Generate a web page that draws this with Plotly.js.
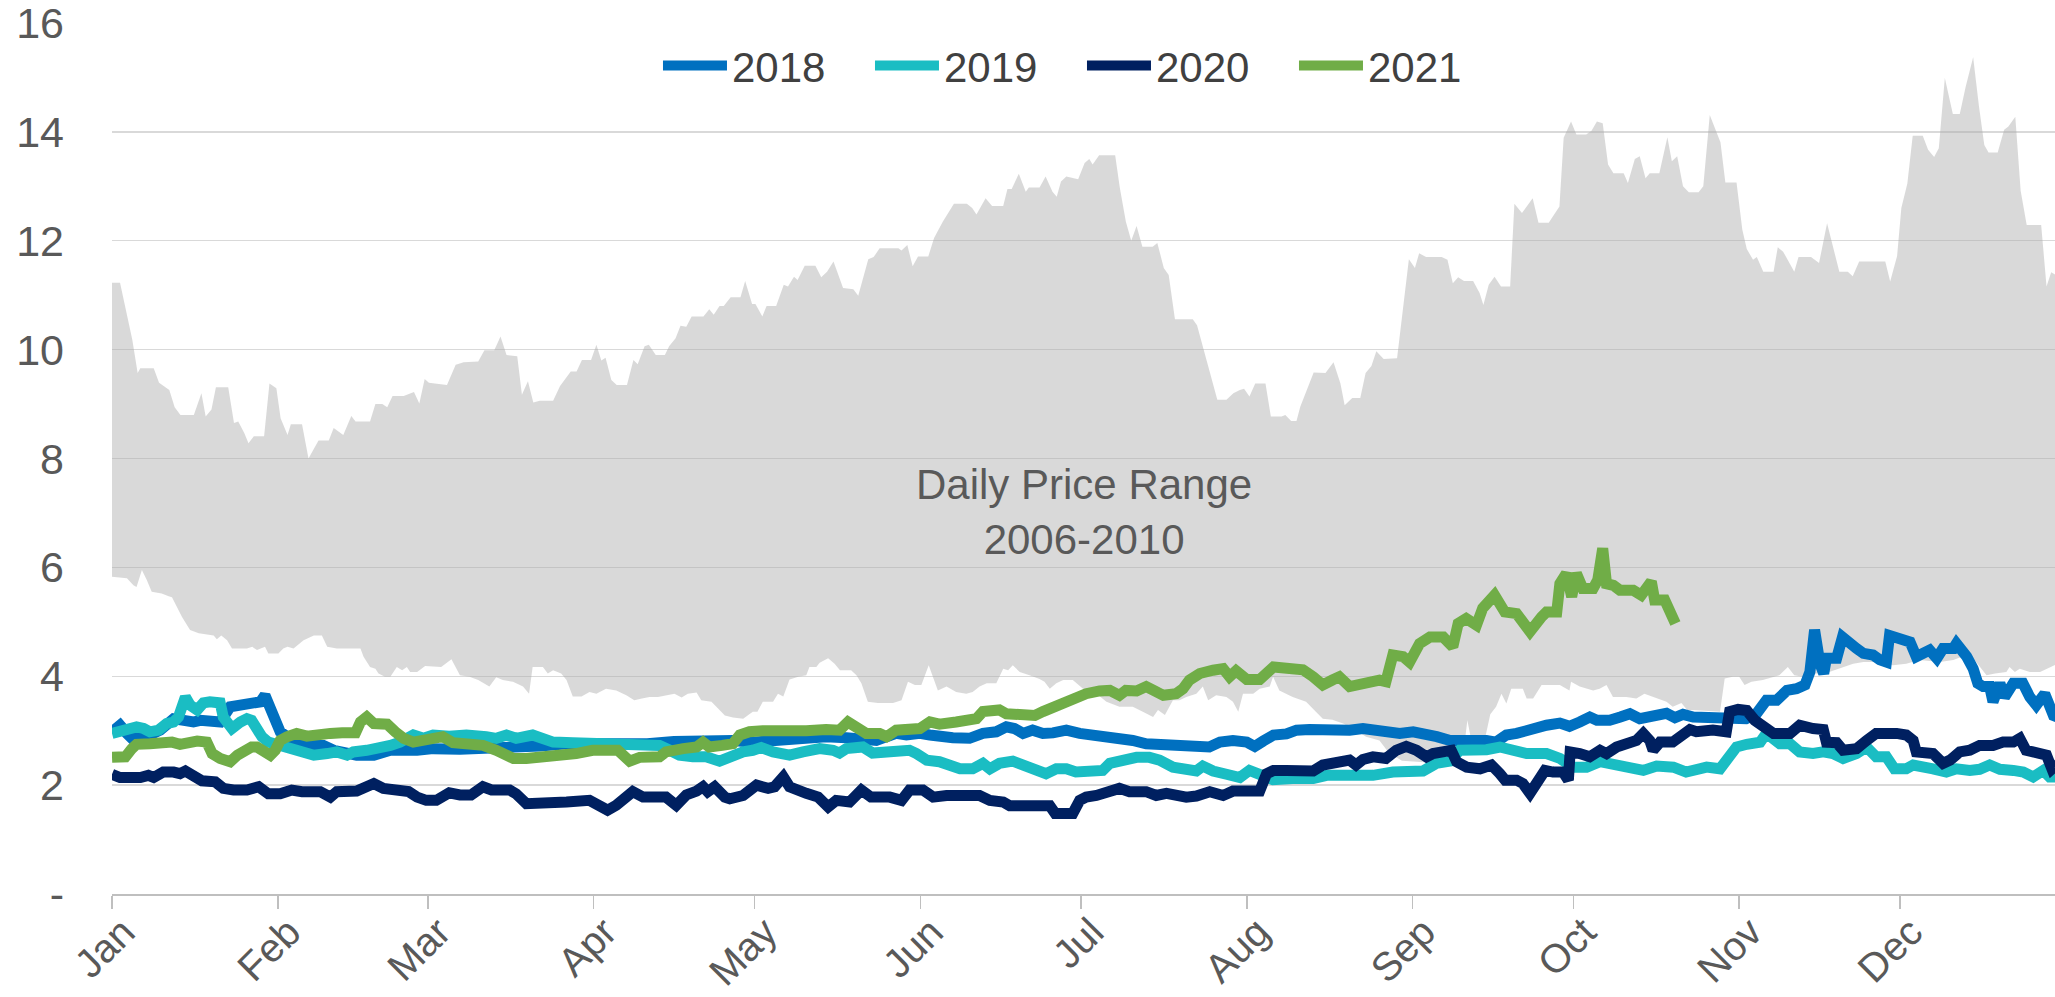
<!DOCTYPE html>
<html>
<head>
<meta charset="utf-8">
<script src="https://cdn.plot.ly/plotly-3.0.1.min.js"></script>
<style>
html,body{margin:0;padding:0;background:#ffffff;}
#chart{width:2055px;height:997px;}
</style>
</head>
<body>
<div id="chart"></div>
<script>
// ---- Data: [day of year (0 = 1 Jan), price] ----
const seriesNames = ['2018', '2019', '2020', '2021'];
const seriesColors = ['#0070C0', '#1ABDC3', '#002060', '#70AD47'];
const rangeLabel = 'Daily Price Range<br>2006-2010';
const yTickVals = [0, 2, 4, 6, 8, 10, 12, 14, 16];
const yTickText = ['-', '2', '4', '6', '8', '10', '12', '14', '16'];

const rangeHigh = [[0,11.23],[1.5,11.23],[3.8,10.18],[4.8,9.57],[5.3,9.66],[7.8,9.66],[8.8,9.39],[10.7,9.26],[11.7,8.94],[12.8,8.80],[15.3,8.80],[16.7,9.20],[17.5,8.77],[18.6,8.90],[19.4,9.31],[21.7,9.31],[22.8,8.65],[23.6,8.68],[24.7,8.47],[25.5,8.28],[26.5,8.41],[28.4,8.41],[29.4,9.38],[30.7,9.29],[31.5,8.74],[32.8,8.43],[33.4,8.63],[35.5,8.63],[36.7,8.00],[38.6,8.33],[40.5,8.33],[41.4,8.56],[43.2,8.43],[44.7,8.78],[45.5,8.68],[48.2,8.68],[49.2,9.00],[50.5,9.00],[51.4,8.94],[52.4,9.15],[54.5,9.15],[56.4,9.22],[57.4,9.01],[58.4,9.46],[59.2,9.39],[62.6,9.35],[64.2,9.72],[65.7,9.77],[68.4,9.78],[69.6,9.99],[71.4,9.99],[72.6,10.24],[73.7,9.90],[75.7,9.88],[76.6,9.17],[77.7,9.42],[78.7,9.03],[79.9,9.06],[82.4,9.06],[83.7,9.33],[85.7,9.60],[86.8,9.60],[87.8,9.81],[89.5,9.81],[90.5,10.09],[91.4,9.80],[92.2,9.85],[93.3,9.44],[94.3,9.35],[96.2,9.35],[97.4,9.81],[98.2,9.73],[99.5,10.06],[100.3,10.09],[101.6,9.90],[103.3,9.90],[104.1,10.06],[105.3,10.21],[106.2,10.44],[107.3,10.42],[108.3,10.61],[110.5,10.61],[111.6,10.74],[112.4,10.64],[113.5,10.80],[114.3,10.80],[115.6,10.96],[117.4,10.96],[118.3,11.26],[119.6,10.84],[120.2,10.84],[121.5,10.61],[122.3,10.80],[124.1,10.80],[125.5,11.19],[126.3,11.16],[127.4,11.34],[128.1,11.28],[129.4,11.54],[131.4,11.54],[132.5,11.33],[133.6,11.43],[134.8,11.62],[136.6,11.13],[138.5,11.11],[139.4,10.99],[141.3,11.66],[142.3,11.70],[143.4,11.86],[146.9,11.86],[147.5,11.82],[148.6,11.92],[149.6,11.53],[150.6,11.71],[152.5,11.71],[153.6,12.05],[155.2,12.35],[156.5,12.54],[157.3,12.68],[159.7,12.68],[160.7,12.60],[161.5,12.48],[163.2,12.78],[164.4,12.64],[166.5,12.64],[167.3,12.95],[168.1,12.95],[169.4,13.23],[170.7,12.90],[171.3,12.98],[173.3,12.98],[174.4,13.18],[175.7,12.90],[176.5,12.81],[177.3,13.09],[178.3,13.18],[180.5,13.13],[181.7,13.43],[182.6,13.50],[183.2,13.40],[184.4,13.57],[187.4,13.57],[188.3,12.97],[189.4,12.35],[190.4,12.00],[191.4,12.27],[192.5,11.89],[194.4,11.89],[195.3,11.96],[196.5,11.50],[197.4,11.37],[198.6,10.56],[201.9,10.56],[202.7,10.45],[204.4,9.84],[206.5,9.08],[208.2,9.08],[209.5,9.20],[210.7,9.26],[211.5,9.28],[212.5,9.14],[213.6,9.38],[215.5,9.38],[216.5,8.77],[218.5,8.77],[219.2,8.80],[220.3,8.69],[221.3,8.69],[222.0,8.95],[223.4,9.29],[224.5,9.58],[226.7,9.57],[228.2,9.77],[229.5,9.38],[230.3,8.98],[231.7,9.11],[233.2,9.11],[234.2,9.57],[235.3,9.70],[236.2,9.97],[237.6,9.83],[240.1,9.84],[241.2,10.76],[242.3,11.66],[243.4,11.50],[244.2,11.77],[245.5,11.70],[248.4,11.70],[249.5,11.65],[250.5,11.22],[251.5,11.33],[252.6,11.26],[254.3,11.26],[255.5,11.04],[256.2,10.82],[257.2,11.19],[258.3,11.34],[259.5,11.16],[261.2,11.16],[262.0,12.68],[263.4,12.51],[265.4,12.78],[266.5,12.33],[268.4,12.33],[270.4,12.63],[271.2,13.89],[272.6,14.19],[273.6,13.95],[275.4,13.95],[276.4,14.02],[277.4,14.19],[278.5,14.16],[279.5,13.40],[280.5,13.24],[282.4,13.24],[283.2,13.06],[284.5,13.50],[285.4,13.55],[286.5,13.15],[287.3,13.24],[289.1,13.24],[290.6,13.90],[291.4,13.46],[292.4,13.55],[293.5,13.00],[294.6,12.89],[296.4,12.89],[297.3,13.00],[298.5,14.31],[299.6,14.03],[300.5,13.81],[301.4,13.07],[303.5,13.07],[304.6,12.20],[305.4,11.85],[306.6,11.65],[307.3,11.70],[308.5,11.43],[310.4,11.43],[311.2,11.88],[312.2,11.80],[314.3,11.43],[315.1,11.70],[317.4,11.70],[318.9,11.59],[320.4,12.32],[321.6,11.86],[322.7,11.43],[324.3,11.43],[325.2,11.35],[326.4,11.62],[331.3,11.62],[332.2,11.25],[333.5,11.72],[334.3,12.60],[335.4,13.05],[336.4,13.93],[338.3,13.93],[339.3,13.67],[340.4,13.54],[341.3,13.70],[342.4,14.99],[343.9,14.33],[345.2,14.33],[346.3,14.82],[347.7,15.37],[348.8,14.47],[349.8,13.76],[350.6,13.62],[352.3,13.62],[353.5,14.04],[354.3,14.10],[355.6,14.28],[356.6,12.92],[357.7,12.29],[360.4,12.29],[361.4,11.16],[362.3,11.42],[363.5,11.35]];

const rangeLow = [[0,5.83],[2.8,5.80],[4.0,5.67],[4.6,5.64],[5.6,5.95],[6.5,5.77],[7.4,5.55],[9.3,5.52],[10.6,5.47],[11.2,5.45],[13.1,5.09],[14.6,4.85],[16.2,4.79],[19.0,4.75],[19.6,4.68],[20.4,4.75],[21.5,4.66],[22.4,4.51],[25.2,4.51],[26.2,4.54],[27.1,4.48],[28.6,4.54],[29.2,4.42],[31.1,4.42],[32.0,4.51],[32.8,4.54],[33.9,4.51],[35.8,4.66],[37.7,4.75],[39.2,4.75],[40.2,4.54],[42.0,4.51],[46.4,4.51],[47.0,4.36],[48.2,4.17],[49.2,4.14],[49.8,4.05],[51.0,3.99],[52.0,3.99],[53.2,4.17],[54.2,4.11],[55.1,4.17],[55.7,4.08],[57.0,4.08],[58.5,4.19],[61.5,4.17],[63.4,4.31],[65.0,4.02],[66.8,3.99],[68.4,3.93],[70.5,3.81],[71.8,3.98],[73.0,3.93],[74.9,3.90],[76.8,3.81],[77.9,3.68],[78.6,4.17],[80.5,4.17],[81.4,4.05],[82.4,4.11],[83.9,4.05],[84.9,3.93],[86.1,3.63],[87.7,3.63],[89.2,3.71],[90.5,3.68],[92.3,3.77],[94.2,3.74],[96.1,3.65],[97.6,3.56],[99.0,3.59],[100.4,3.62],[102.0,3.62],[103.5,3.65],[105.1,3.68],[106.4,3.61],[107.6,3.68],[109.2,3.70],[110.1,3.56],[112.0,3.53],[113.2,3.41],[114.5,3.28],[116.0,3.24],[117.9,3.22],[119.7,3.35],[120.6,3.35],[121.6,3.53],[123.5,3.53],[124.4,3.68],[125.4,3.63],[126.6,3.94],[128.2,3.99],[129.7,4.02],[130.3,4.17],[131.6,4.17],[132.2,4.25],[133.8,4.33],[135.0,4.23],[136.0,4.11],[138.1,4.11],[139.1,4.02],[140.0,3.87],[141.2,3.53],[143.1,3.51],[145.9,3.51],[147.5,3.56],[148.7,3.90],[150.0,3.84],[151.2,3.84],[152.6,4.20],[154.3,3.74],[155.9,3.81],[157.7,3.71],[159.6,3.68],[160.8,3.71],[162.1,3.81],[163.4,3.87],[165.2,3.87],[166.5,4.14],[167.4,4.11],[168.3,4.20],[169.6,4.08],[171.4,4.02],[173.3,3.95],[174.2,3.90],[175.2,3.77],[176.4,3.87],[177.7,3.93],[179.5,3.93],[180.3,3.87],[181.4,3.77],[183.9,3.68],[185.8,3.53],[188.2,3.44],[190.7,3.44],[192.6,3.35],[194.5,3.25],[195.4,3.38],[196.7,3.29],[198.2,3.56],[199.4,3.56],[200.7,3.62],[202.6,3.68],[203.8,3.81],[204.8,3.56],[206.3,3.65],[208.2,3.62],[209.4,3.53],[210.4,3.35],[211.3,3.68],[213.2,3.68],[214.4,3.77],[216.3,3.81],[216.9,3.99],[218.1,3.74],[220.6,3.62],[223.1,3.53],[224.9,3.35],[226.2,3.22],[228.0,3.20],[230.0,3.13],[232.4,3.01],[234.3,2.89],[236.8,2.82],[238.5,2.60],[241.0,2.45],[245.0,2.42],[248.0,2.40],[250.5,2.55],[252.5,2.60],[253.2,3.19],[254.0,2.80],[256.5,2.85],[257.5,3.30],[258.6,3.44],[259.6,3.68],[260.5,3.50],[261.4,3.77],[263.6,3.77],[264.3,3.59],[265.5,3.59],[267.1,3.84],[270.5,3.84],[272.3,3.74],[272.6,3.90],[274.2,3.81],[276.7,3.74],[277.9,3.77],[279.2,3.84],[280.4,3.62],[282.9,3.62],[284.8,3.59],[286.3,3.68],[287.9,3.62],[290.4,3.53],[291.6,3.44],[293.2,3.51],[294.3,3.38],[295.4,3.38],[300.4,3.35],[301.3,3.96],[302.8,3.99],[304.0,3.99],[305.0,3.84],[306.3,3.90],[308.4,3.93],[310.3,3.99],[311.5,4.02],[313.1,4.17],[314.3,4.02],[315.9,3.99],[318.0,4.05],[320.0,4.05],[321.5,4.10],[323.4,4.17],[325.3,4.23],[327.2,4.26],[330.0,4.26],[332.7,4.20],[335.2,4.23],[337.7,4.30],[341.5,4.26],[344.0,4.30],[346.5,4.39],[347.7,4.33],[349.0,4.17],[350.2,4.02],[351.8,4.05],[353.9,4.08],[354.5,4.17],[355.5,4.08],[356.4,4.14],[358.3,4.08],[360.2,4.08],[361.4,4.14],[363.5,4.23]];

const price2018 = [[0,2.98],[1.5,3.10],[2.8,2.95],[3.7,2.86],[5.3,2.89],[7.1,2.92],[9.0,3.01],[10.2,3.13],[11.5,3.22],[13.4,3.19],[15.2,3.16],[16.5,3.19],[18.3,3.16],[20.2,3.16],[22.1,3.44],[24.0,3.47],[25.8,3.53],[27.7,3.53],[28.6,3.65],[29.6,3.44],[30.5,3.13],[31.4,2.98],[32.7,2.89],[34.5,2.79],[37.0,2.73],[39.5,2.73],[41.4,2.64],[43.3,2.61],[45.7,2.55],[48.9,2.55],[50.1,2.58],[52.0,2.64],[57.0,2.64],[60,2.67],[65,2.66],[70,2.68],[75,2.70],[78,2.68],[80,2.72],[85,2.76],[90,2.75],[95,2.76],[100,2.76],[105,2.80],[110,2.82],[114,2.86],[116,2.82],[119.7,2.79],[123.5,2.82],[126,2.86],[129.7,2.86],[133.4,2.89],[137.2,2.87],[140.3,2.82],[142.8,2.82],[144.7,2.89],[146.5,2.95],[148.4,2.92],[150.9,2.95],[152.8,2.92],[154.6,2.89],[157.1,2.87],[160.2,2.86],[162.7,2.95],[165.2,2.98],[167.1,3.07],[168.6,3.04],[170.2,2.95],[172,3.01],[173.9,2.95],[175.8,2.96],[178.3,3.01],[180.8,2.95],[183.3,2.92],[185.8,2.87],[188.2,2.89],[190.7,2.82],[193.2,2.76],[195.7,2.75],[198.2,2.73],[200.7,2.75],[203.2,2.73],[205,2.70],[207,2.79],[209.4,2.82],[212,2.79],[213.5,2.71],[215.1,2.81],[217,2.92],[219.4,2.94],[221.3,3.01],[223.7,3.02],[226.2,3.00],[228.7,2.98],[231.2,3.01],[233.7,3.04],[235.6,3.01],[238,2.96],[240.6,2.95],[243.1,2.98],[245.6,2.95],[247.5,2.89],[250,2.82],[253.6,2.84],[256.8,2.82],[258.6,2.79],[260.5,2.92],[262.4,2.95],[264.3,3.01],[266.1,3.04],[268,3.10],[270.5,3.14],[272.3,3.08],[274.2,3.16],[276.1,3.25],[277.4,3.19],[279.8,3.19],[281.8,3.25],[283.6,3.31],[285.4,3.22],[287.3,3.25],[289.2,3.28],[290.4,3.32],[292,3.24],[293.5,3.30],[295.4,3.25],[299.1,3.24],[301,3.25],[303.5,3.22],[305.3,3.22],[307.2,3.31],[309.1,3.56],[311,3.56],[312.9,3.74],[314.7,3.77],[316.3,3.84],[317.2,4.08],[318.1,4.85],[319.1,4.23],[319.8,4.05],[320.3,4.33],[322.2,4.33],[323.3,4.72],[324.7,4.57],[325.9,4.51],[327.2,4.42],[329,4.39],[330.3,4.30],[331.5,4.26],[332.1,4.75],[333.7,4.69],[335.9,4.63],[337.1,4.36],[338.4,4.45],[339.6,4.48],[340.9,4.33],[342.1,4.51],[344,4.51],[344.6,4.60],[346.5,4.36],[347.7,4.14],[348.6,3.87],[349.6,3.81],[350.8,3.81],[351.4,3.53],[352.7,3.87],[353.6,3.62],[355.2,3.87],[357,3.87],[358.3,3.62],[359.5,3.47],[361.1,3.68],[362,3.47],[362.7,3.28],[363.5,3.25]];

const price2019 = [[0,2.95],[2.2,3.01],[4.6,3.07],[5.9,3.04],[7.1,2.98],[8.7,3.01],[10.2,3.13],[11.5,3.16],[12.4,3.25],[13.7,3.62],[14.6,3.47],[15.9,3.38],[17.1,3.51],[18.3,3.53],[20.2,3.51],[20.8,3.25],[22.4,3.04],[24.0,3.16],[25.2,3.22],[26.1,3.19],[27.1,3.01],[28.0,2.89],[29.2,2.79],[30.5,2.76],[32.0,2.73],[33.3,2.70],[35.8,2.61],[37.7,2.55],[40.2,2.58],[42.0,2.61],[43.9,2.55],[45.1,2.61],[47.6,2.64],[49.5,2.67],[52.0,2.73],[53.8,2.79],[56.3,2.92],[58.2,2.86],[60,2.92],[63,2.90],[66.2,2.92],[69.9,2.89],[71.8,2.86],[73.7,2.92],[75.5,2.86],[78.6,2.92],[80.5,2.86],[82.4,2.79],[86.1,2.78],[91.1,2.75],[97.3,2.75],[102.3,2.73],[104.2,2.64],[106,2.55],[108.5,2.52],[111,2.52],[113.5,2.44],[115.4,2.52],[117.9,2.61],[119.7,2.64],[121.3,2.69],[123.5,2.61],[126.6,2.55],[129.1,2.61],[132.2,2.67],[134.7,2.64],[135.9,2.59],[137.2,2.67],[140.3,2.70],[142.1,2.59],[144.7,2.61],[149,2.64],[150.3,2.58],[152.2,2.46],[154.6,2.43],[156.5,2.37],[158.4,2.30],[160.8,2.30],[162.7,2.40],[164,2.30],[165.8,2.40],[168.3,2.44],[170.2,2.37],[172.4,2.24],[174.5,2.21],[176.4,2.30],[178.3,2.30],[180.1,2.24],[182.7,2.24],[185.1,2.27],[186.4,2.40],[188.9,2.46],[191.4,2.51],[193.8,2.51],[195.7,2.46],[198.2,2.33],[200.7,2.30],[202.6,2.26],[203.8,2.35],[205.7,2.26],[208.2,2.20],[210.7,2.14],[212.5,2.27],[214.4,2.18],[216.9,2.10],[220.6,2.12],[224.4,2.12],[226.9,2.18],[229.5,2.18],[232.4,2.15],[235.6,2.18],[239.3,2.24],[242.4,2.27],[244.9,2.26],[247.4,2.40],[249.9,2.44],[251.8,2.64],[254.3,2.64],[256.8,2.65],[259.3,2.70],[261.8,2.64],[264.3,2.58],[268,2.58],[270.5,2.49],[273,2.33],[275.5,2.33],[278,2.43],[280.5,2.37],[283,2.30],[286.1,2.27],[288.6,2.35],[291.7,2.33],[294.1,2.24],[296,2.30],[297.9,2.33],[300.4,2.30],[302.2,2.58],[303.5,2.70],[305.4,2.75],[307.9,2.79],[309.1,2.95],[310.4,2.82],[311.6,2.76],[313.5,2.76],[315.3,2.61],[317.8,2.58],[319.7,2.61],[321.5,2.58],[323.4,2.49],[325.9,2.58],[327.8,2.70],[329.6,2.52],[331.5,2.52],[333,2.30],[335.2,2.30],[336.5,2.37],[338.3,2.35],[340.2,2.30],[342.7,2.24],[344.6,2.30],[347.1,2.27],[348.9,2.29],[350.8,2.37],[352.7,2.29],[355.2,2.27],[357.1,2.24],[358.9,2.15],[360.8,2.27],[362,2.15],[363.5,2.15]];

const price2020 = [[0,2.20],[1.5,2.14],[5.3,2.14],[6.8,2.18],[7.8,2.14],[9.6,2.24],[11.5,2.24],[12.7,2.21],[13.7,2.26],[15.2,2.15],[16.8,2.08],[19.3,2.06],[20.8,1.94],[22.7,1.91],[25.2,1.91],[27.4,1.97],[29.2,1.84],[31.4,1.84],[33.6,1.91],[35.5,1.88],[38.9,1.88],[40.8,1.78],[42.0,1.88],[45.7,1.89],[47.6,1.97],[48.9,2.03],[50.7,1.94],[53.2,1.91],[55.4,1.88],[57.0,1.78],[58.7,1.72],[60.6,1.72],[63,1.86],[65,1.82],[67.1,1.82],[69.3,1.97],[70.9,1.91],[74.3,1.91],[75.5,1.84],[77.4,1.66],[79.9,1.66],[82.4,1.67],[84.9,1.69],[89.2,1.72],[91.1,1.60],[92.6,1.54],[94.2,1.63],[97.3,1.88],[99.2,1.78],[103.5,1.78],[105.4,1.63],[107.3,1.82],[109.2,1.89],[110.4,1.97],[111.3,1.88],[112.6,1.97],[114.5,1.78],[115.4,1.75],[117.9,1.81],[120.4,2.00],[122.6,1.94],[123.8,1.97],[125.4,2.15],[126.6,1.97],[129.7,1.85],[131.9,1.78],[133.8,1.60],[135.3,1.72],[137.8,1.69],[140,1.91],[141.8,1.78],[145.3,1.78],[147.5,1.72],[149,1.91],[151.5,1.91],[153.4,1.78],[155.9,1.81],[162.1,1.81],[164,1.72],[166.5,1.69],[167.7,1.62],[175.2,1.62],[176.2,1.48],[179.5,1.48],[180.8,1.72],[182,1.78],[183.9,1.81],[185.8,1.85],[188.2,1.94],[190.1,1.88],[193.2,1.88],[195.1,1.81],[197,1.85],[200.7,1.78],[202.6,1.80],[205.1,1.88],[207.6,1.81],[209.4,1.89],[214.4,1.89],[215.7,2.21],[217,2.27],[219.4,2.27],[221.9,2.24],[224.4,2.26],[226.2,2.37],[227.5,2.40],[229.4,2.40],[231.2,2.46],[232.4,2.37],[233.7,2.47],[235.6,2.52],[238,2.49],[239.9,2.64],[241.8,2.71],[243.7,2.64],[245.6,2.52],[246.8,2.58],[248.7,2.64],[250.2,2.64],[251.2,2.43],[253.1,2.33],[255.6,2.30],[257.7,2.37],[259.3,2.21],[260.3,2.09],[262.4,2.09],[263.6,2.03],[264.9,1.85],[266.1,2.03],[267.7,2.27],[269.2,2.24],[271.1,2.24],[272.1,2.09],[272.4,2.61],[274.2,2.58],[276.1,2.52],[278,2.64],[279.2,2.58],[281.1,2.70],[283,2.79],[284.8,2.82],[286.1,2.95],[287.3,2.82],[287.9,2.64],[289.2,2.79],[291.6,2.79],[293.5,2.95],[294.8,3.02],[296,2.98],[299.1,3.01],[301.6,2.98],[302.2,3.35],[303.8,3.39],[305.4,3.37],[306.9,3.19],[308.5,3.07],[310.4,2.95],[313.5,2.95],[315.3,3.10],[317.8,3.04],[319.7,3.02],[320.3,2.79],[322.2,2.78],[323.4,2.64],[325.9,2.67],[327.8,2.82],[329.6,2.95],[333.4,2.95],[335.2,2.92],[336.5,2.82],[337.1,2.61],[340.2,2.58],[342.1,2.40],[343.4,2.46],[345.2,2.61],[347.1,2.64],[348.9,2.73],[351.4,2.73],[353.3,2.79],[355.2,2.79],[356.4,2.86],[357.6,2.64],[359.5,2.58],[361.4,2.55],[362.4,2.30],[363.5,2.40]];

const price2021 = [[0,2.51],[2.5,2.52],[3.7,2.67],[4.6,2.75],[7.1,2.76],[9.6,2.79],[11.2,2.79],[12.7,2.75],[14.0,2.79],[15.9,2.81],[17.7,2.79],[18.7,2.58],[20.2,2.49],[22.1,2.43],[23.4,2.55],[24.6,2.64],[26.1,2.70],[27.1,2.70],[28.3,2.61],[29.6,2.55],[30.5,2.64],[31.4,2.82],[32.7,2.89],[34.5,2.95],[36.4,2.90],[39.5,2.90],[40.8,2.95],[43.0,2.96],[45.5,2.96],[46.4,3.16],[47.6,3.25],[48.9,3.13],[51.4,3.12],[52.9,2.98],[54.5,2.86],[56.3,2.79],[59.3,2.82],[61.8,2.89],[63.7,2.78],[66.2,2.75],[69.3,2.73],[71.8,2.64],[73.7,2.58],[75.0,2.49],[77.4,2.49],[79.9,2.51],[81.8,2.55],[83.0,2.52],[86.7,2.58],[89.8,2.64],[94.5,2.64],[96.7,2.44],[98.6,2.51],[102.3,2.52],[103.5,2.61],[106.7,2.67],[109.2,2.70],[110.4,2.79],[111.6,2.70],[114.0,2.73],[116.0,2.76],[117.3,2.92],[119.1,2.98],[121.6,3.00],[126,2.98],[129.7,3.00],[133.4,3.02],[135.9,3.01],[137.5,3.16],[139.1,3.06],[140.9,2.95],[143.4,2.95],[144.7,2.89],[146.5,3.01],[149,3.01],[150.9,3.04],[152.8,3.16],[154.6,3.12],[157.7,3.16],[159.6,3.19],[161.5,3.22],[162.7,3.35],[165.8,3.38],[167.1,3.31],[169.6,3.31],[172.4,3.28],[173.9,3.35],[175.2,3.40],[177,3.50],[179.5,3.62],[182,3.68],[184.5,3.73],[186.4,3.74],[188.2,3.65],[189.4,3.74],[191.4,3.73],[193.2,3.81],[194.8,3.73],[196.4,3.65],[198.8,3.68],[200.1,3.77],[201.3,3.93],[203.2,4.05],[205.7,4.11],[207.6,4.14],[208.8,3.99],[210,4.10],[212,3.94],[214.4,3.94],[217,4.17],[220.6,4.17],[222.5,4.12],[224.4,3.99],[226.2,3.84],[228,3.93],[229.3,3.99],[231.2,3.81],[233,3.85],[234.9,3.90],[236.8,3.93],[238,3.90],[239.3,4.39],[241.2,4.36],[242.4,4.26],[244.3,4.60],[246.2,4.72],[248.7,4.72],[250.5,4.54],[251.5,4.97],[253,5.06],[254.9,4.94],[256.1,5.25],[258.3,5.49],[260.2,5.18],[262.4,5.15],[264.9,4.82],[267.1,5.09],[268,5.18],[269.9,5.18],[270.5,5.70],[271.7,5.89],[272.7,5.46],[273.6,5.89],[274.8,5.61],[276.7,5.61],[277.6,5.77],[278.5,6.35],[279.2,5.70],[280.5,5.67],[281.7,5.58],[284.2,5.58],[285.7,5.49],[287.6,5.74],[288.2,5.40],[290.1,5.40],[292.1,4.97]];

const seriesData = [price2018, price2019, price2020, price2021];

// ---- helpers ----
const BASE = Date.UTC(2021, 0, 1);
function dayToDate(d) {
  const ms = BASE + Math.round(d * 24) * 3600000;
  return new Date(ms).toISOString().slice(0, 19).replace('T', ' ');
}
const xs = arr => arr.map(p => dayToDate(p[0]));
const ys = arr => arr.map(p => p[1]);

const FONT = 'Liberation Sans, Arial, Helvetica, sans-serif';

const traces = [
  {
    x: xs(rangeLow), y: ys(rangeLow), type: 'scatter', mode: 'lines',
    line: {width: 0, color: 'rgba(0,0,0,0)'}, showlegend: false, hoverinfo: 'skip'
  },
  {
    x: xs(rangeHigh), y: ys(rangeHigh), type: 'scatter', mode: 'lines',
    line: {width: 0, color: 'rgba(0,0,0,0)'}, fill: 'tonexty',
    fillcolor: 'rgba(170,170,170,0.45)', showlegend: false, hoverinfo: 'skip'
  }
];
seriesNames.forEach((name, i) => {
  traces.push({
    x: xs(seriesData[i]), y: ys(seriesData[i]), type: 'scatter', mode: 'lines',
    name: name, line: {color: seriesColors[i], width: 11, shape: 'linear'}
  });
});

const layout = {
  width: 2055, height: 997,
  margin: {l: 112, r: 0, t: 23, b: 103, pad: 0},
  paper_bgcolor: '#ffffff', plot_bgcolor: 'rgba(0,0,0,0)',
  font: {family: FONT, size: 42, color: '#595959'},
  showlegend: true,
  xaxis: {
    type: 'date',
    range: [dayToDate(0), dayToDate(363)],
    tick0: dayToDate(0), dtick: 'M1', tickformat: '%b',
    tickangle: -45,
    ticks: 'outside', ticklen: 13, tickwidth: 1.5, tickcolor: '#bfbfbf',
    ticklabelstandoff: -16, ticklabelshift: 11, ticklabeloverflow: 'allow',
    showline: true, linecolor: '#bfbfbf', linewidth: 1.5,
    showgrid: false, zeroline: false,
    tickfont: {family: FONT, size: 40, color: '#595959'},
    fixedrange: true
  },
  yaxis: {
    range: [0, 16],
    tickmode: 'array', tickvals: yTickVals, ticktext: yTickText,
    showgrid: true, gridcolor: '#d9d9d9', gridwidth: 1.3,
    zeroline: false, showline: false, ticks: '',
    ticklabelstandoff: 47, ticklabeloverflow: 'allow',
    tickfont: {family: FONT, size: 43, color: '#595959'},
    fixedrange: true
  },
  legend: {
    orientation: 'h', x: 0.281, xanchor: 'left', y: 0.951, yanchor: 'middle',
    font: {family: FONT, size: 42, color: '#404040'},
    itemwidth: 64, entrywidth: 133, bgcolor: 'rgba(0,0,0,0)', traceorder: 'normal'
  },
  annotations: [{
    text: rangeLabel, xref: 'paper', yref: 'paper', x: 0.5, y: 0.4386,
    xanchor: 'center', yanchor: 'middle', showarrow: false,
    font: {family: FONT, size: 42, color: '#595959'}
  }]
};

Plotly.newPlot('chart', traces, layout, {displayModeBar: false, staticPlot: true});
</script>
</body>
</html>
